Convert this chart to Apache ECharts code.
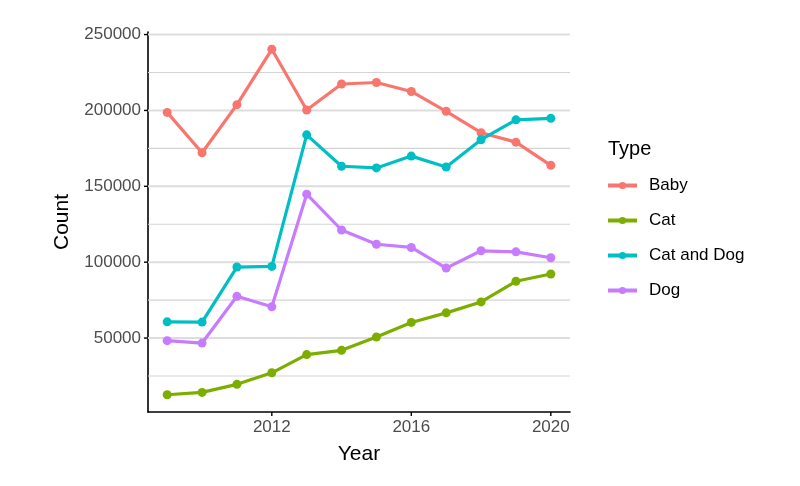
<!DOCTYPE html>
<html><head><meta charset="utf-8">
<script src="https://cdn.jsdelivr.net/npm/echarts@6/dist/echarts.min.js"></script>
<style>html,body{margin:0;padding:0;background:#fff}#c{width:800px;height:486px}</style>
</head><body><div id="c"></div>
<script>
const years = [2009,2010,2011,2012,2013,2014,2015,2016,2017,2018,2019,2020];
const baby = [198700,172100,203800,240300,200300,217400,218400,212500,199400,185300,179100,163800];
const cat = [12650,14200,19500,27100,39100,41900,50700,60300,66600,73800,87400,92200];
const catDog = [60700,60500,96800,97200,183900,163200,162100,169900,162700,180700,193800,194800];
const dog = [48300,46700,77500,70600,144800,121200,111800,109700,96100,107500,106800,102900];
const seriesNames = ['Baby','Cat','Cat and Dog','Dog'];
const colors = ['#F8766D','#7CAE00','#00BFC4','#C77CFF'];
const xTicks = [2012,2016,2020];
const yMajor = [50000,100000,150000,200000,250000];
const yMinor = [25000,75000,125000,175000,225000];

const allVals = baby.concat(cat, catDog, dog);
const vMin = Math.min(...allVals), vMax = Math.max(...allVals);
const vExp = (vMax - vMin) * 0.05;
const yMin = vMin - vExp, yMax = vMax + vExp;
const xExp = (years[years.length-1] - years[0]) * 0.05;
const xMin = years[0] - xExp, xMax = years[years.length-1] + xExp;

const FONT = 'Liberation Sans, Arial, sans-serif';
const chart = echarts.init(document.getElementById('c'), null, {renderer:'canvas'});
const data = [baby, cat, catDog, dog];

const series = data.map((arr, i) => ({
  name: seriesNames[i], type: 'line', data: years.map((y, j) => [y, arr[j]]),
  symbol: 'circle', symbolSize: 9, showSymbol: true,
  lineStyle: {width: 3.2, color: colors[i]}, itemStyle: {color: colors[i]},
  emphasis: {disabled: true}, animation: false, z: 5
}));

// grid lines, ticks and labels drawn through the axis scale
series.push({
  type: 'custom', name: 'axisdeco', silent: true, animation: false, z: 1,
  data: [0],
  renderItem: function (params, api) {
    const children = [];
    const xl = api.coord([xMin, yMin])[0], xr = api.coord([xMax, yMin])[0];
    const yb = api.coord([xMin, yMin])[1];
    yMinor.forEach(v => {
      const y = api.coord([xMin, v])[1];
      children.push({type:'line', shape:{x1:xl, y1:y, x2:xr, y2:y}, style:{stroke:'#D4D4D4', lineWidth:1.2}});
    });
    yMajor.forEach(v => {
      const y = api.coord([xMin, v])[1];
      children.push({type:'line', shape:{x1:xl, y1:y, x2:xr, y2:y}, style:{stroke:'#DDDDDD', lineWidth:2}});
      children.push({type:'line', shape:{x1:xl-4, y1:y, x2:xl, y2:y}, style:{stroke:'#000', lineWidth:1.4}});
      children.push({type:'text', x: xl-7, y: y, style:{text: String(v), fill:'#4D4D4D', font: '17px ' + FONT, align:'right', verticalAlign:'middle'}});
    });
    xTicks.forEach(v => {
      const x = api.coord([v, yMin])[0];
      children.push({type:'line', shape:{x1:x, y1:yb, x2:x, y2:yb+4}, style:{stroke:'#000', lineWidth:1.4}});
      children.push({type:'text', x: x, y: yb+7, style:{text: String(v), fill:'#4D4D4D', font: '17px ' + FONT, align:'center', verticalAlign:'top'}});
    });
    return {type:'group', children: children};
  }
});

chart.setOption({
  backgroundColor: '#fff',
  animation: false,
  grid: {left: 148, right: 230, top: 32, bottom: 74, containLabel: false},
  xAxis: {type:'value', min: xMin, max: xMax, axisLine:{show:true, onZero:false, lineStyle:{color:'#000', width:1.6}},
    axisTick:{show:false}, axisLabel:{show:false}, splitLine:{show:false},
    name:'Year', nameLocation:'middle', nameGap: 32, nameTextStyle:{color:'#000', fontSize:21, fontFamily: FONT}},
  yAxis: {type:'value', min: yMin, max: yMax, axisLine:{show:true, onZero:false, lineStyle:{color:'#000', width:1.6}},
    axisTick:{show:false}, axisLabel:{show:false}, splitLine:{show:false},
    name:'Count', nameLocation:'middle', nameGap: 75, nameRotate: 90, nameTextStyle:{color:'#000', fontSize:21, fontFamily: FONT}},
  legend: {
    data: seriesNames, orient:'vertical', left: 601, top: 172, itemWidth: 29, itemHeight: 9, itemGap: 18,
    lineStyle: {width: 4},
    textStyle: {fontSize: 17, color:'#000', fontFamily: FONT, padding:[0,0,0,7]}
  },
  title: {text:'Type', left: 603, top: 134, textStyle:{fontSize:20, fontWeight:'normal', color:'#000', fontFamily: FONT}},
  series: series
});
</script>
</body></html>
